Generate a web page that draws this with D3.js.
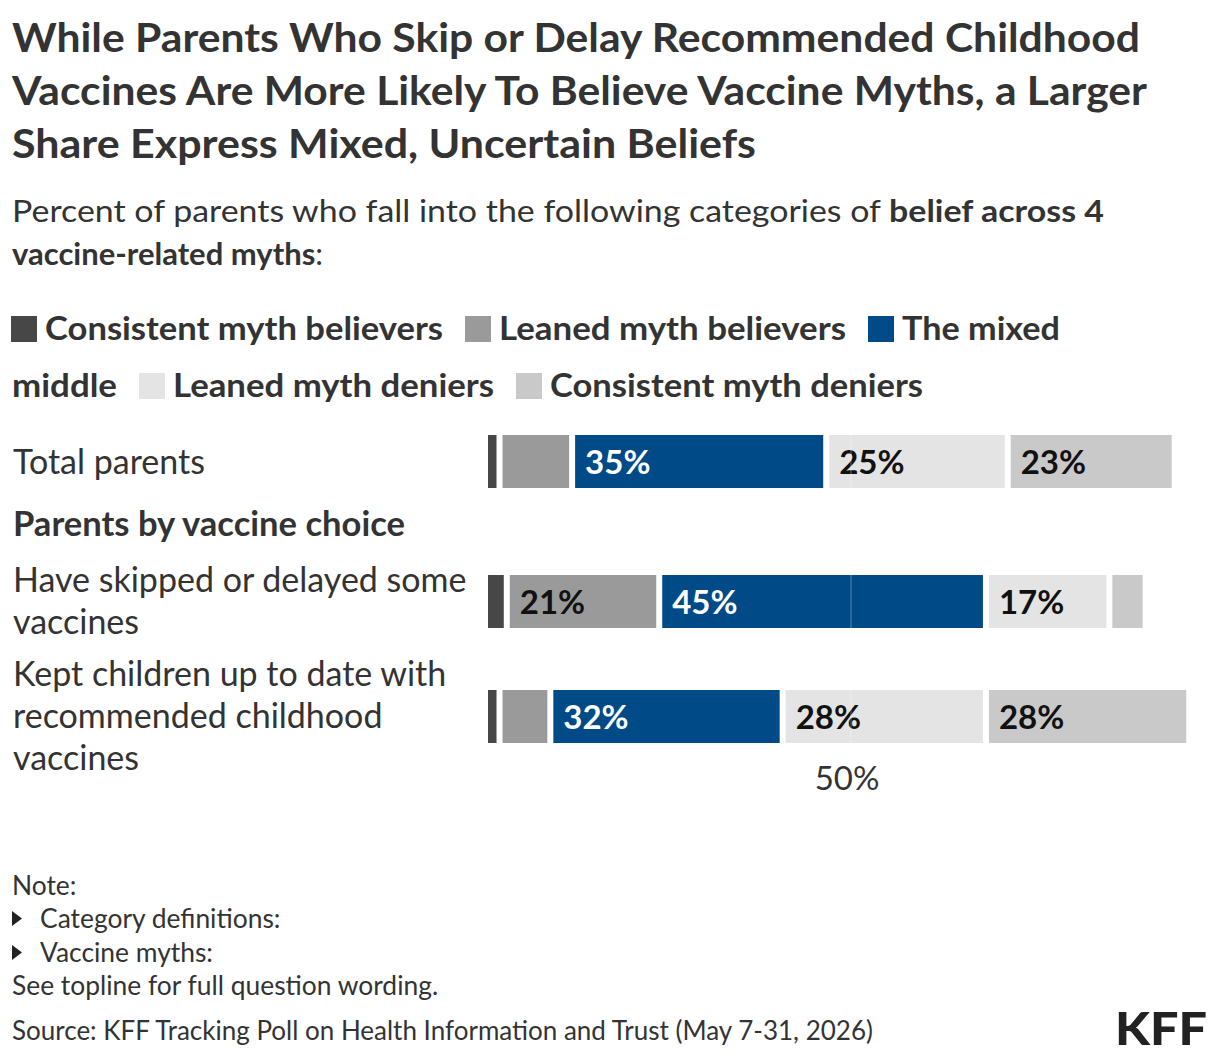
<!DOCTYPE html>
<html>
<head>
<meta charset="utf-8">
<script src="https://cdn.jsdelivr.net/npm/d3@7"></script>
<style>
  html, body { margin: 0; padding: 0; background: #fff; }
  svg { display: block; font-family: Lato, "Open Sans", sans-serif; }
</style>
</head>
<body>
<svg id="chart" width="1220" height="1058"></svg>
<script>
// ---- data ----
const categories = ["Total parents", "Have skipped or delayed some vaccines", "Kept children up to date with recommended childhood vaccines"];
const categoryLines = [["Total parents"], ["Have skipped or delayed some", "vaccines"], ["Kept children up to date with", "recommended childhood", "vaccines"]];
const seriesNames = ["Consistent myth believers", "Leaned myth believers", "The mixed middle", "Leaned myth deniers", "Consistent myth deniers"];
const consistentBelievers = [2, 3, 2];
const leanedBelievers = [10, 21, 7];
const mixedMiddle = [35, 45, 32];
const leanedDeniers = [25, 17, 28];
const consistentDeniers = [23, 5, 28];
const tickValues = [50];
const groupHeader = "Parents by vaccine choice";

const seriesValues = [consistentBelievers, leanedBelievers, mixedMiddle, leanedDeniers, consistentDeniers];
const colors = ["#474747", "#9a9a9a", "#004a87", "#e4e4e4", "#c9c9c9"];
const labelColors = ["#fff", "#111", "#fff", "#111", "#111"];

const svg = d3.select("#chart");
const textColor = "#333";

// ---- title ----
const titleLines = [
  ["While Parents Who Skip or Delay Recommended Childhood", 1128],
  ["Vaccines Are More Likely To Believe Vaccine Myths, a Larger", 1135],
  ["Share Express Mixed, Uncertain Beliefs", 744]
];
titleLines.forEach((l, i) => {
  svg.append("text").attr("x", 12).attr("y", 52 + i * 53)
    .attr("font-size", 40).attr("font-weight", 700).attr("fill", "#333")
    .attr("textLength", l[1]).attr("lengthAdjust", "spacingAndGlyphs")
    .text(l[0]);
});

// ---- subtitle ----
const sub1 = svg.append("text").attr("x", 12).attr("y", 222).attr("font-size", 31).attr("fill", textColor)
  .attr("textLength", 1092).attr("lengthAdjust", "spacingAndGlyphs");
sub1.append("tspan").text("Percent of parents who fall into the following categories of ");
sub1.append("tspan").attr("font-weight", 700).text("belief across 4");
const sub2 = svg.append("text").attr("x", 12).attr("y", 265).attr("font-size", 31).attr("fill", textColor);
sub2.append("tspan").attr("font-weight", 700).text("vaccine-related myths");
sub2.append("tspan").text(":");

// ---- legend (manual wrap like the original) ----
const legendFont = 32;
const legendRows = [
  [{i: 0, t: "Consistent myth believers", sw: true, w: 398}, {i: 1, t: "Leaned myth believers", sw: true, w: 347}, {i: 2, t: "The mixed", sw: true, w: 158}],
  [{i: 2, t: "middle", sw: false, w: 105}, {i: 3, t: "Leaned myth deniers", sw: true, w: 321}, {i: 4, t: "Consistent myth deniers", sw: true, w: 373}]
];
const legendY = [340, 397];
legendRows.forEach((row, r) => {
  let x = 11;
  row.forEach(item => {
    if (item.sw) {
      svg.append("rect").attr("x", x).attr("y", legendY[r] - 24).attr("width", 26).attr("height", 26)
        .attr("fill", colors[item.i]);
      x += 34;
    } else {
      x += 1;
    }
    svg.append("text").attr("x", x).attr("y", legendY[r]).attr("font-size", legendFont)
      .attr("font-weight", 700).attr("fill", textColor)
      .attr("textLength", item.w).attr("lengthAdjust", "spacingAndGlyphs").text(item.t);
    x += item.w + 22;
  });
});

// ---- scales ----
const x = d3.scaleLinear().domain([0, 100]).range([488, 1214]);
const y = d3.scaleOrdinal().domain(categories).range([435, 575, 690]);
const barH = 53;
const gap = 6;

// row labels
categories.forEach((c, ci) => {
  const lines = categoryLines[ci];
  const top = ci === 0 ? 474 : (ci === 1 ? 592 : 686);
  lines.forEach((ln, li) => {
    svg.append("text").attr("x", 13).attr("y", top + li * 42).attr("font-size", 34)
      .attr("fill", textColor).text(ln);
  });
});
svg.append("text").attr("x", 13).attr("y", 536).attr("font-size", 34).attr("font-weight", 700)
  .attr("fill", textColor).attr("textLength", 392).attr("lengthAdjust", "spacingAndGlyphs").text(groupHeader);

// bars
const stackData = categories.map((c, ci) => {
  let cum = 0;
  return seriesValues.map((vals, si) => {
    const d = {cat: c, s: si, v: vals[ci], x0: cum, x1: cum + vals[ci]};
    cum += vals[ci];
    return d;
  });
});
const rows = svg.append("g").selectAll("g").data(stackData).join("g");
rows.selectAll("rect").data(d => d).join("rect")
  .attr("x", d => x(d.x0))
  .attr("y", d => y(d.cat))
  .attr("width", d => Math.max(0, x(d.x1) - x(d.x0) - gap))
  .attr("height", barH)
  .attr("fill", d => colors[d.s]);
rows.selectAll("text").data(d => d.filter(e => e.v > 10)).join("text")
  .attr("x", d => x(d.x0) + 10)
  .attr("y", d => y(d.cat) + barH / 2 + 12)
  .attr("font-size", 33).attr("font-weight", 700)
  .attr("fill", d => labelColors[d.s])
  .text(d => d.v + "%");

// 50% reference line and label
tickValues.forEach(t => {
  svg.append("line").attr("x1", x(t)).attr("x2", x(t))
    .attr("y1", y(categories[0])).attr("y2", y(categories[2]) + barH)
    .attr("stroke", "#fff").attr("stroke-opacity", 0.35).attr("stroke-width", 1);
  svg.append("text").attr("x", x(t) - 4).attr("y", 790).attr("text-anchor", "middle")
    .attr("font-size", 33).attr("fill", textColor).text(t + "%");
});

// ---- notes ----
const noteFont = 26.4;
svg.append("text").attr("x", 12).attr("y", 895).attr("font-size", noteFont).attr("fill", textColor).text("Note:");
[["Category definitions:", 928], ["Vaccine myths:", 962]].forEach(n => {
  svg.append("path").attr("d", `M12,${n[1] - 17} L22,${n[1] - 9.5} L12,${n[1] - 2} Z`).attr("fill", "#222");
  svg.append("text").attr("x", 40).attr("y", n[1]).attr("font-size", noteFont).attr("fill", textColor).text(n[0]);
});
svg.append("text").attr("x", 12).attr("y", 995).attr("font-size", noteFont).attr("fill", textColor)
  .text("See topline for full question wording.");
svg.append("text").attr("x", 12).attr("y", 1040).attr("font-size", 26).attr("fill", textColor)
  .text("Source: KFF Tracking Poll on Health Information and Trust (May 7-31, 2026)");
svg.append("text").attr("x", 1207).attr("y", 1045).attr("text-anchor", "end").attr("font-size", 46)
  .attr("font-weight", 900).attr("fill", "#222").attr("textLength", 92).attr("lengthAdjust", "spacingAndGlyphs")
  .text("KFF");
</script>
</body>
</html>
